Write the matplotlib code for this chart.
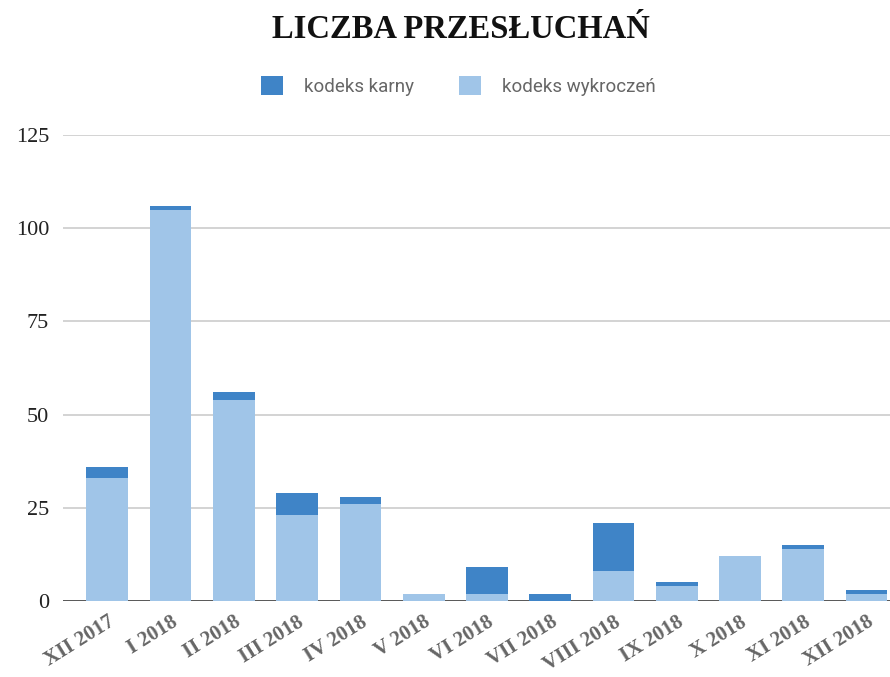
import matplotlib
matplotlib.use('Agg')
import matplotlib.pyplot as plt
import numpy as np

months = ['XII 2017', 'I 2018', 'II 2018', 'III 2018', 'IV 2018', 'V 2018', 'VI 2018',
          'VII 2018', 'VIII 2018', 'IX 2018', 'X 2018', 'XI 2018', 'XII 2018']
wykroczen = [33, 105, 54, 23, 26, 2, 2, 0, 8, 4, 12, 14, 2]
karny = [3, 1, 2, 6, 2, 0, 7, 2, 13, 1, 0, 1, 1]

dark = '#3F84C7'
light = '#A0C5E8'

fig = plt.figure(figsize=(8.9, 6.77), dpi=100)
ax = fig.add_axes([0.0708, 0.1123, 0.9292, 0.6883])

x = np.arange(len(months))
ax.bar(x, wykroczen, width=0.66, color=light, zorder=3)
ax.bar(x, karny, width=0.66, bottom=wykroczen, color=dark, zorder=3)

ax.set_xlim(-0.70, 12.37)
ax.set_ylim(0, 125)
ax.set_yticks([0, 25, 50, 75, 100, 125])
ax.yaxis.grid(True, color='#cccccc', linewidth=1.2, zorder=0)
ax.axhline(0, color='#333333', linewidth=1.8, zorder=2)
for s in ax.spines.values():
    s.set_visible(False)
ax.tick_params(axis='both', length=0)
ax.tick_params(axis='y', pad=10)
for lab in ax.get_yticklabels():
    lab.set_fontfamily('Liberation Serif')
    lab.set_fontsize(16)
    lab.set_color('#222222')

ax.set_xticks(x)
ax.set_xticklabels(months, rotation=32, ha='right', va='top', rotation_mode='anchor',
                   fontfamily='Liberation Serif', fontweight='bold', fontsize=15,
                   color='#666666')
ax.tick_params(axis='x', pad=8)

fig.text(0.518, 0.957, 'LICZBA PRZESŁUCHAŃ', ha='center', va='center',
         fontfamily='Liberation Serif', fontweight='bold', fontsize=23.5, color='#111111')

from matplotlib.patches import Patch
handles = [Patch(facecolor=dark, label='kodeks karny'),
           Patch(facecolor=light, label='kodeks wykroczeń')]
leg = fig.legend(handles=handles, loc='center', bbox_to_anchor=(0.515, 0.873), ncol=2,
                 frameon=False, prop={'family': 'Roboto', 'size': 13.5},
                 handlelength=1.2, handleheight=1.2, columnspacing=2.4, handletextpad=1.1)
for t in leg.get_texts():
    t.set_color('#666666')

fig.savefig('out.png', dpi=100)
